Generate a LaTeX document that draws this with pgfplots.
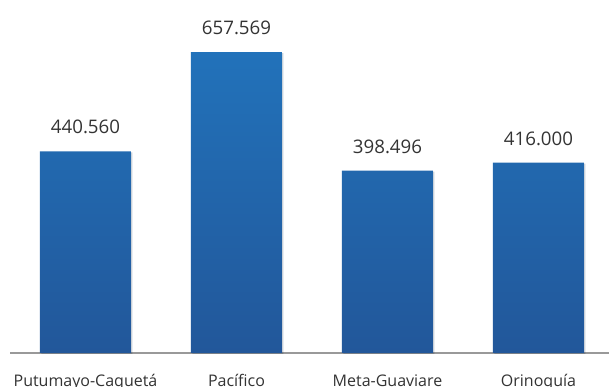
\documentclass[border=0pt]{standalone}
\usepackage{pgfplots}
\pgfplotsset{compat=1.18}
\usepackage{fontspec}
\setmainfont{Open Sans}
\usetikzlibrary{shadows}
\definecolor{bartop}{HTML}{2272BA}
\definecolor{barbot}{HTML}{22579A}
\definecolor{txt}{HTML}{333333}
\begin{document}
\begin{tikzpicture}
\useasboundingbox (0,0) rectangle (609bp,387bp);
\begin{axis}[
  at={(10bp,34bp)}, anchor=south west,
  scale only axis, width=599bp, height=320.4bp,
  xmin=-0.5, xmax=3.467, ymin=0, ymax=700000,
  axis y line=none, axis x line*=bottom,
  x axis line style={draw=gray!80, line width=1.2bp},
  xtick=data, xticklabels={Putumayo-Caquetá,Pacífico,Meta-Guaviare,Orinoquía},
  xtick style={draw=none},
  xticklabel style={anchor=base, yshift=-34bp, font=\fontsize{16bp}{18bp}\selectfont, text=txt},
  ytick=\empty,
  clip=false,
  point meta=explicit symbolic,
  nodes near coords,
  nodes near coords style={anchor=south, inner sep=0pt, yshift=17bp, font=\fontsize{18.7bp}{20bp}\selectfont, text=txt},
]
\addplot[ybar, bar width=91bp, draw=none, top color=bartop, bottom color=barbot,
  drop shadow={shadow xshift=1.5bp, shadow yshift=-1bp, opacity=0.12, fill=black}]
  coordinates {(0,440560) [440.560] (1,657569) [657.569] (2,398496) [398.496] (3,416000) [416.000]};
\end{axis}
\end{tikzpicture}
\end{document}
